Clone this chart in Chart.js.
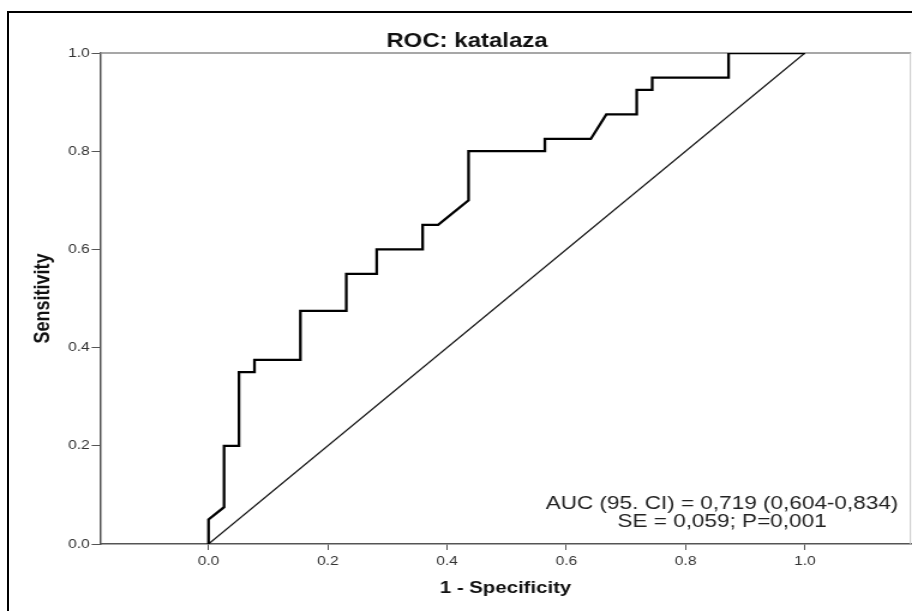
<!DOCTYPE html>
<html>
<head>
<meta charset="utf-8">
<title>ROC: katalaza</title>
<script src="https://cdn.jsdelivr.net/npm/chart.js@4.4.1/dist/chart.umd.min.js"></script>
<style>
    html, body { margin: 0; padding: 0; background: #fff; overflow: hidden; }
    #page-frame {
        position: absolute; left: 7px; top: 11px; right: -10px; bottom: -10px;
        border-left: 2px solid #000; border-top: 2px solid #000;
    }
    /* the plot is drawn narrow and stretched sideways, like the exported SPSS graph */
    #wrap {
        position: absolute; left: 0; top: 0; width: 760px; height: 611px;
        transform: scaleX(1.2); transform-origin: 0 0;
    }
</style>
</head>
<body>
<div id="page-frame"></div>
<div id="wrap"><canvas id="roc" width="760" height="611"></canvas></div>
<script>
// --- DADOS DA CURVA ROC ---
const umMenosEspecificidade = [0, 0, 0.026, 0.026, 0.051, 0.051, 0.077, 0.077, 0.154, 0.154,
    0.231, 0.231, 0.282, 0.282, 0.359, 0.359, 0.385, 0.436, 0.436, 0.564,
    0.564, 0.641, 0.667, 0.718, 0.718, 0.744, 0.744, 0.872, 0.872, 1.0];
const sensibilidade = [0, 0.05, 0.075, 0.2, 0.2, 0.35, 0.35, 0.375, 0.375, 0.475,
    0.475, 0.55, 0.55, 0.6, 0.6, 0.65, 0.65, 0.7, 0.8, 0.8,
    0.825, 0.825, 0.875, 0.875, 0.925, 0.925, 0.95, 0.95, 1.0, 1.0];
const referenciaX = [0, 1];
const referenciaY = [0, 1];
const tickValues = [0, 0.2, 0.4, 0.6, 0.8, 1.0];

const tituloGrafico = 'ROC: katalaza';
const legendaAUC = ['AUC (95. CI) = 0,719 (0,604-0,834)', 'SE = 0,059; P=0,001'];

const FONT = "'Liberation Sans', Arial, sans-serif";
const STRETCH = 1.2;

// textos soltos: titulo e caixa de AUC
const textosPlugin = {
    id: 'textosRoc',
    beforeDatasetsDraw(chart) {
        // moldura de cima e da direita
        const { ctx, chartArea } = chart;
        ctx.save();
        ctx.strokeStyle = '#8a8a8a';
        ctx.lineWidth = 1.5;
        ctx.beginPath();
        ctx.moveTo(chartArea.left, chartArea.top);
        ctx.lineTo(chartArea.right, chartArea.top);
        ctx.stroke();
        ctx.strokeStyle = '#c8c8c8';
        ctx.lineWidth = 1;
        ctx.beginPath();
        ctx.moveTo(chartArea.right - 0.5, chartArea.top);
        ctx.lineTo(chartArea.right - 0.5, chartArea.bottom);
        ctx.stroke();
        ctx.restore();
    },
    afterDraw(chart) {
        const ctx = chart.ctx;
        ctx.save();
        ctx.fillStyle = '#111';
        ctx.textAlign = 'center';
        ctx.textBaseline = 'alphabetic';
        ctx.font = 'bold 20px ' + FONT;
        ctx.fillText(tituloGrafico, 467 / STRETCH, 47);

        ctx.fillStyle = '#222';
        ctx.font = '18.8px ' + FONT;
        ctx.fillText(legendaAUC[0], 722 / STRETCH, 509);
        ctx.fillText(legendaAUC[1], 722 / STRETCH, 527);
        ctx.restore();
    }
};

const ticksFixos = (scale) => {
    scale.ticks = tickValues.map(v => ({ value: v }));
};

const ctx = document.getElementById('roc').getContext('2d');
const rocChart = new Chart(ctx, {
    type: 'scatter',
    data: {
        datasets: [
            {
                label: 'ROC',
                data: umMenosEspecificidade.map((x, i) => ({ x: x, y: sensibilidade[i] })),
                showLine: true,
                borderColor: '#000',
                borderWidth: 2.3,
                pointRadius: 0,
                fill: false,
                tension: 0
            },
            {
                label: 'Referencia',
                data: referenciaX.map((x, i) => ({ x: x, y: referenciaY[i] })),
                showLine: true,
                borderColor: '#111',
                borderWidth: 1.2,
                pointRadius: 0,
                fill: false
            }
        ]
    },
    options: {
        responsive: false,
        animation: false,
        layout: { padding: { top: 53, right: 760 - 911 / STRETCH, left: 0, bottom: 0 } },
        plugins: {
            legend: { display: false },
            tooltip: { enabled: false },
            title: { display: false }
        },
        scales: {
            x: {
                type: 'linear',
                position: 'bottom',
                min: -0.182,
                max: 1.178,
                afterBuildTicks: ticksFixos,
                afterFit: (scale) => { scale.height = 67; },
                border: { color: '#555', width: 1.5 },
                grid: { drawOnChartArea: false, drawTicks: true, tickLength: 6, color: '#555' },
                ticks: {
                    padding: 3.5,
                    color: '#333',
                    font: { family: FONT, size: 13 },
                    maxRotation: 0,
                    callback: (v) => Number(v).toFixed(1)
                },
                title: {
                    display: true,
                    text: '1 - Specificity',
                    color: '#111',
                    font: { family: FONT, size: 17, weight: 'bold' },
                    padding: { top: 0, bottom: 12.8 }
                }
            },
            y: {
                type: 'linear',
                min: 0,
                max: 1,
                afterBuildTicks: ticksFixos,
                afterFit: (scale) => { scale.width = 100 / STRETCH; },
                border: { color: '#555', width: 1.5 },
                grid: { drawOnChartArea: false, drawTicks: true, tickLength: 7, color: '#555' },
                ticks: {
                    padding: 1.5,
                    color: '#333',
                    font: { family: FONT, size: 13 },
                    callback: (v) => Number(v).toFixed(1)
                },
                title: {
                    display: true,
                    text: 'Sensitivity',
                    color: '#111',
                    font: { family: FONT, size: 18, weight: 'bold' },
                    padding: { top: 25.5, bottom: 0 }
                }
            }
        }
    },
    plugins: [textosPlugin]
});
</script>
</body>
</html>
